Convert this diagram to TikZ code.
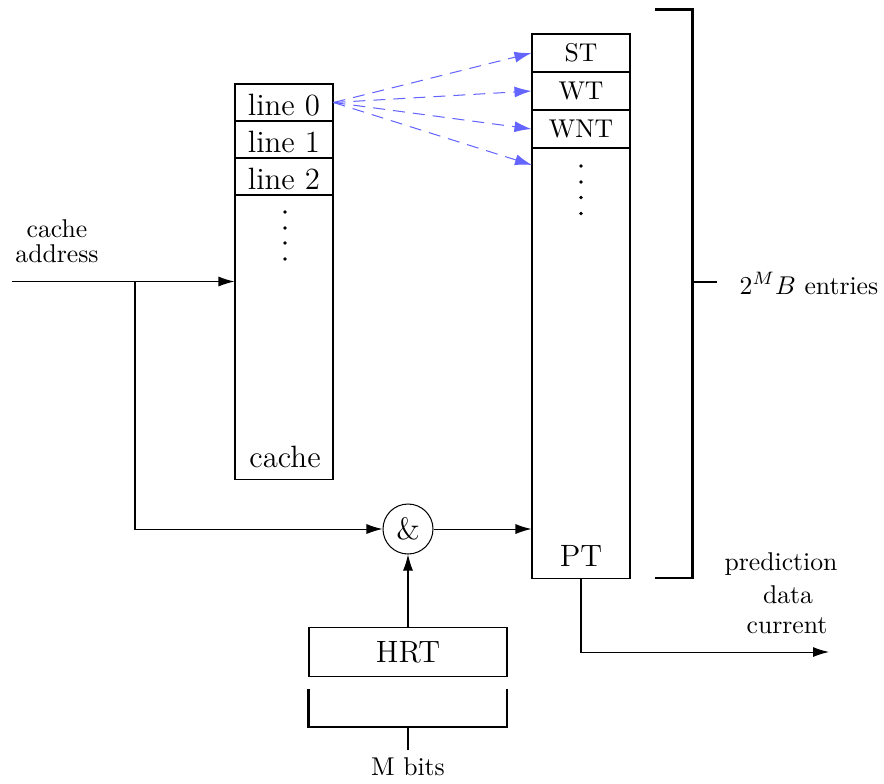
\documentclass[tikz,border=0pt]{standalone}
\usetikzlibrary{arrows.meta}
\definecolor{dashblue}{RGB}{100,100,255}
\def\px{0.38911pt}
\begin{document}
\begin{tikzpicture}[x=\px,y=-\px,
  small/.style={font=\fontsize{10}{9.7}\selectfont},
  big/.style={font=\fontsize{12}{14}\selectfont},
  box/.style={draw, line width=0.4pt, inner sep=0pt},
  cell/.style={box, big, minimum width=98*\px, minimum height=37*\px, text height=25*\px, text depth=0pt},
  scell/.style={box, small, minimum width=98*\px, minimum height=38*\px},
  arr/.style={line width=0.4pt, -{Latex[length=16*\px,width=10*\px]}},
  bluearr/.style={draw=dashblue, line width=0.4pt, dash pattern=on 12*\px off 8*\px, -{Latex[length=17*\px,width=11*\px]}},
  brk/.style={line width=2.5*\px, line join=miter},
  dot/.style={fill, circle, inner sep=0pt, minimum size=3.8*\px}
]
\useasboundingbox (0,0) rectangle (884,783);

% cache
\node[box, minimum width=98*\px, minimum height=395*\px] (cache) at (284,281.5) {};
\node[cell] (l0) at (284,102.5) {line 0};
\node[cell] (l1) at (284,139.5) {line 1};
\node[cell] (l2) at (284,176.5) {line 2};
\node[big, anchor=base, inner sep=0pt] (cachelbl) at (285,467) {cache};
\foreach \yy [count=\i] in {212,228,243,259} \node[dot] (cd\i) at (285,\yy) {};

% PT
\node[box, minimum width=98*\px, minimum height=544*\px] (PT) at (581,306) {};
\node[scell] (ST) at (581,53) {ST};
\node[scell] (WT) at (581,91) {WT};
\node[scell] (WNT) at (581,129) {WNT};
\node[big, anchor=base, inner sep=0pt] (ptlbl) at (581,566) {PT};
\foreach \yy [count=\i] in {166,182,197.5,213.5} \node[dot] (pd\i) at (581,\yy) {};
\coordinate (PTfree) at (532,165);

% blue dashed
\draw[bluearr] (l0.east) -- (ST.west);
\draw[bluearr] (l0.east) -- (WT.west);
\draw[bluearr] (l0.east) -- (WNT.west);
\draw[bluearr] (l0.east) -- (PTfree);

% and gate and HRT
\node[draw, circle, line width=0.4pt, minimum size=50*\px, inner sep=0pt, big] (amp) at (408,529) {\&};
\node[box, big, minimum width=198*\px, minimum height=49*\px] (HRT) at (408,652) {HRT};

% input
\node[small, align=center, inner sep=0pt] (addr) at (57,241) {cache\\address};
\coordinate (in) at (12,281.5);
\coordinate (br) at (135,281.5);
\draw[arr] (in) -- (cache.west);
\draw[arr] (br) |- (amp.west);
\draw[arr] (amp.east) -- (amp.east -| PT.west);
\draw[arr] (HRT.north) -- (amp.south);

% output
\coordinate (out) at (829,652);
\draw[arr] (PT.south) |- (out);
\node[small, anchor=base, inner sep=0pt] (pred) at (781,570) {prediction};
\node[small, anchor=base, inner sep=0pt] (data) at (788,603) {data};
\node[small, anchor=base, inner sep=0pt] (curr) at (787,633) {current};

% right bracket
\coordinate (rb1) at (655,9.5);
\coordinate (rb2) at (692.5,9.5);
\coordinate (rb3) at (692.5,578);
\coordinate (rb4) at (655,578);
\coordinate (rbm) at (692.5,282);
\coordinate (rbt) at (717,282);
\draw[brk] (rb1) -- (rb2) -- (rb3) -- (rb4);
\draw[brk] (rbm) -- (rbt);
\node[small, anchor=base west, inner sep=0pt] (entries) at (739,294) {$2^M B$ entries};

% M bits bracket
\coordinate (mb1) at (308.5,689);
\coordinate (mb2) at (308.5,727);
\coordinate (mb3) at (507,727);
\coordinate (mb4) at (507,689);
\coordinate (mbm) at (408,727);
\coordinate (mbt) at (408,750);
\draw[brk] (mb1) -- (mb2) -- (mb3) -- (mb4);
\draw[brk] (mbm) -- (mbt);
\node[small, anchor=base, inner sep=0pt] (mbits) at (408,775) {M bits};
\end{tikzpicture}
\end{document}
